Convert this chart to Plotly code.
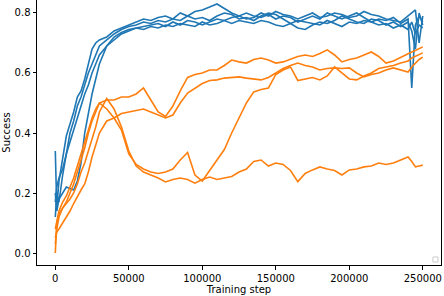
import plotly.graph_objects as go

steps = [0, 1000, 2500, 5000, 7500, 10000, 12500, 15000, 17500, 20000, 22500, 25000, 27500, 30000,
         35000, 40000, 45000, 50000, 55000, 60000, 65000, 70000, 75000, 80000,
         85000, 90000, 95000, 100000, 105000, 110000, 115000, 120000, 125000, 130000,
         135000, 140000, 145000, 150000, 155000, 160000, 165000, 170000, 175000, 180000,
         185000, 190000, 195000, 200000, 205000, 210000, 215000, 220000, 225000, 230000,
         235000, 240000, 242500, 245000, 247500, 250000]

blue_1 = [0.34, 0.15, 0.24, 0.31, 0.39, 0.43, 0.47, 0.52, 0.54, 0.58, 0.63, 0.68, 0.70, 0.71,
          0.72, 0.74, 0.75, 0.76, 0.77, 0.78, 0.775, 0.785, 0.79, 0.78,
          0.80, 0.79, 0.805, 0.81, 0.82, 0.83, 0.815, 0.80, 0.79, 0.80,
          0.79, 0.785, 0.795, 0.78, 0.79, 0.785, 0.77, 0.78, 0.79, 0.78,
          0.80, 0.79, 0.78, 0.79, 0.80, 0.785, 0.77, 0.78, 0.775, 0.785,
          0.765, 0.78, 0.55, 0.76, 0.79, 0.77]
blue_2 = [0.12, 0.20, 0.17, 0.26, 0.33, 0.40, 0.44, 0.49, 0.52, 0.56, 0.60, 0.63, 0.66, 0.69,
          0.71, 0.73, 0.745, 0.755, 0.76, 0.77, 0.765, 0.775, 0.77, 0.78,
          0.775, 0.79, 0.78, 0.785, 0.775, 0.79, 0.80, 0.795, 0.78, 0.785,
          0.775, 0.79, 0.80, 0.795, 0.78, 0.765, 0.75, 0.745, 0.76, 0.77,
          0.765, 0.775, 0.79, 0.78, 0.77, 0.765, 0.78, 0.775, 0.76, 0.77,
          0.755, 0.77, 0.74, 0.68, 0.80, 0.76]
blue_3 = [0.20, 0.14, 0.18, 0.20, 0.22, 0.215, 0.21, 0.24, 0.30, 0.40, 0.47, 0.53, 0.58, 0.63,
          0.69, 0.72, 0.735, 0.745, 0.75, 0.755, 0.76, 0.765, 0.755, 0.77,
          0.76, 0.775, 0.77, 0.76, 0.77, 0.78, 0.775, 0.785, 0.79, 0.78,
          0.785, 0.80, 0.79, 0.805, 0.795, 0.79, 0.78, 0.79, 0.80, 0.785,
          0.79, 0.80, 0.795, 0.785, 0.79, 0.805, 0.795, 0.79, 0.78, 0.775,
          0.77, 0.79, 0.80, 0.81, 0.70, 0.79]
blue_4 = [0.17, 0.22, 0.25, 0.28, 0.33, 0.37, 0.41, 0.45, 0.49, 0.53, 0.56, 0.60, 0.63, 0.66,
          0.69, 0.71, 0.73, 0.74, 0.75, 0.745, 0.755, 0.75, 0.76, 0.755,
          0.765, 0.76, 0.755, 0.77, 0.76, 0.765, 0.775, 0.765, 0.775, 0.77,
          0.765, 0.775, 0.77, 0.76, 0.755, 0.765, 0.775, 0.77, 0.765, 0.76,
          0.775, 0.765, 0.755, 0.77, 0.765, 0.775, 0.77, 0.76, 0.765, 0.75,
          0.76, 0.745, 0.77, 0.73, 0.76, 0.75]

orange_1 = [0.03, 0.08, 0.12, 0.15, 0.17, 0.20, 0.23, 0.27, 0.31, 0.35, 0.40, 0.44, 0.47, 0.50,
            0.51, 0.51, 0.52, 0.52, 0.53, 0.55, 0.51, 0.47, 0.455, 0.49,
            0.54, 0.585, 0.595, 0.60, 0.61, 0.61, 0.625, 0.643, 0.637, 0.633,
            0.645, 0.65, 0.643, 0.633, 0.637, 0.645, 0.655, 0.66, 0.655, 0.665,
            0.677, 0.66, 0.637, 0.645, 0.65, 0.66, 0.67, 0.655, 0.633, 0.64,
            0.653, 0.665, 0.67, 0.675, 0.68, 0.687]
orange_2 = [0.05, 0.07, 0.08, 0.10, 0.12, 0.14, 0.165, 0.19, 0.21, 0.23, 0.27, 0.32, 0.36, 0.40,
            0.44, 0.45, 0.465, 0.47, 0.477, 0.48, 0.47, 0.46, 0.45, 0.46,
            0.50, 0.533, 0.55, 0.565, 0.575, 0.577, 0.583, 0.585, 0.587, 0.583,
            0.58, 0.577, 0.585, 0.60, 0.615, 0.625, 0.633, 0.625, 0.62, 0.61,
            0.615, 0.617, 0.615, 0.617, 0.60, 0.587, 0.595, 0.60, 0.61, 0.617,
            0.61, 0.603, 0.62, 0.633, 0.645, 0.653]
orange_3 = [0.0, 0.10, 0.13, 0.15, 0.165, 0.18, 0.20, 0.23, 0.27, 0.30, 0.34, 0.38, 0.42, 0.47,
            0.515, 0.48, 0.42, 0.34, 0.29, 0.27, 0.26, 0.25, 0.237, 0.245,
            0.25, 0.245, 0.233, 0.245, 0.253, 0.245, 0.25, 0.255, 0.27, 0.28,
            0.305, 0.31, 0.29, 0.30, 0.295, 0.275, 0.238, 0.265, 0.277, 0.287,
            0.28, 0.275, 0.26, 0.277, 0.28, 0.287, 0.29, 0.30, 0.295, 0.30,
            0.31, 0.32, 0.305, 0.287, 0.29, 0.293]
orange_4 = [0.08, 0.11, 0.14, 0.17, 0.19, 0.22, 0.25, 0.29, 0.33, 0.37, 0.41, 0.45, 0.48, 0.50,
            0.48, 0.45, 0.41, 0.33, 0.295, 0.28, 0.27, 0.265, 0.27, 0.28,
            0.31, 0.335, 0.26, 0.24, 0.275, 0.31, 0.345, 0.40, 0.45, 0.50,
            0.537, 0.545, 0.55, 0.595, 0.61, 0.62, 0.575, 0.58, 0.585, 0.577,
            0.59, 0.62, 0.60, 0.58, 0.577, 0.59, 0.60, 0.615, 0.62, 0.625,
            0.633, 0.64, 0.65, 0.655, 0.66, 0.667]

y_ticks = [0.0, 0.2, 0.4, 0.6, 0.8]
y_tick_labels = ["0.0", "0.2", "0.4", "0.6", "0.8"]
x_ticks = [0, 50000, 100000, 150000, 200000, 250000]
x_tick_labels = ["0", "50000", "100000", "150000", "200000", "250000"]

BLUE = "#1f77b4"
ORANGE = "#ff7f0e"

fig = go.Figure()
for s in [blue_1, blue_2, blue_3, blue_4]:
    fig.add_trace(go.Scatter(x=steps, y=s, mode="lines",
                             line=dict(color=BLUE, width=1.6), showlegend=False))
for s in [orange_1, orange_2, orange_3, orange_4]:
    fig.add_trace(go.Scatter(x=steps, y=s, mode="lines",
                             line=dict(color=ORANGE, width=1.6), showlegend=False))

font = dict(family="DejaVu Sans", size=10, color="black")
fig.update_layout(
    width=444, height=296,
    margin=dict(l=37, r=3, t=0, b=31, autoexpand=False),
    paper_bgcolor="white", plot_bgcolor="white",
    font=font,
    showlegend=False,
    xaxis=dict(range=[-12450, 262400], tickvals=x_ticks, ticktext=x_tick_labels,
               automargin=False,
               showgrid=False, zeroline=False, showline=True, linecolor="black", linewidth=1,
               ticks="outside", ticklen=3.5, tickcolor="black", tickwidth=1,
               title=dict(text="Training step", font=font, standoff=0)),
    yaxis=dict(range=[-0.04, 0.8433], tickvals=y_ticks, ticktext=y_tick_labels,
               automargin=False,
               showgrid=False, zeroline=False, showline=True, mirror=True,
               linecolor="black", linewidth=1,
               ticks="outside", ticklen=3.5, tickcolor="black", tickwidth=1,
               title=dict(text="Success", font=font, standoff=2)),
    shapes=[dict(type="rect", xref="paper", yref="paper",
                 x0=0.980, x1=0.9926, y0=0.0113, y1=0.0302,
                 line=dict(color="#cccccc", width=1), fillcolor="white")],
)

fig.write_html("out.html",
               config={"displayModeBar": False, "staticPlot": True},
               post_script="document.body.style.margin='0';document.body.style.padding='0';document.body.style.overflow='hidden';")
